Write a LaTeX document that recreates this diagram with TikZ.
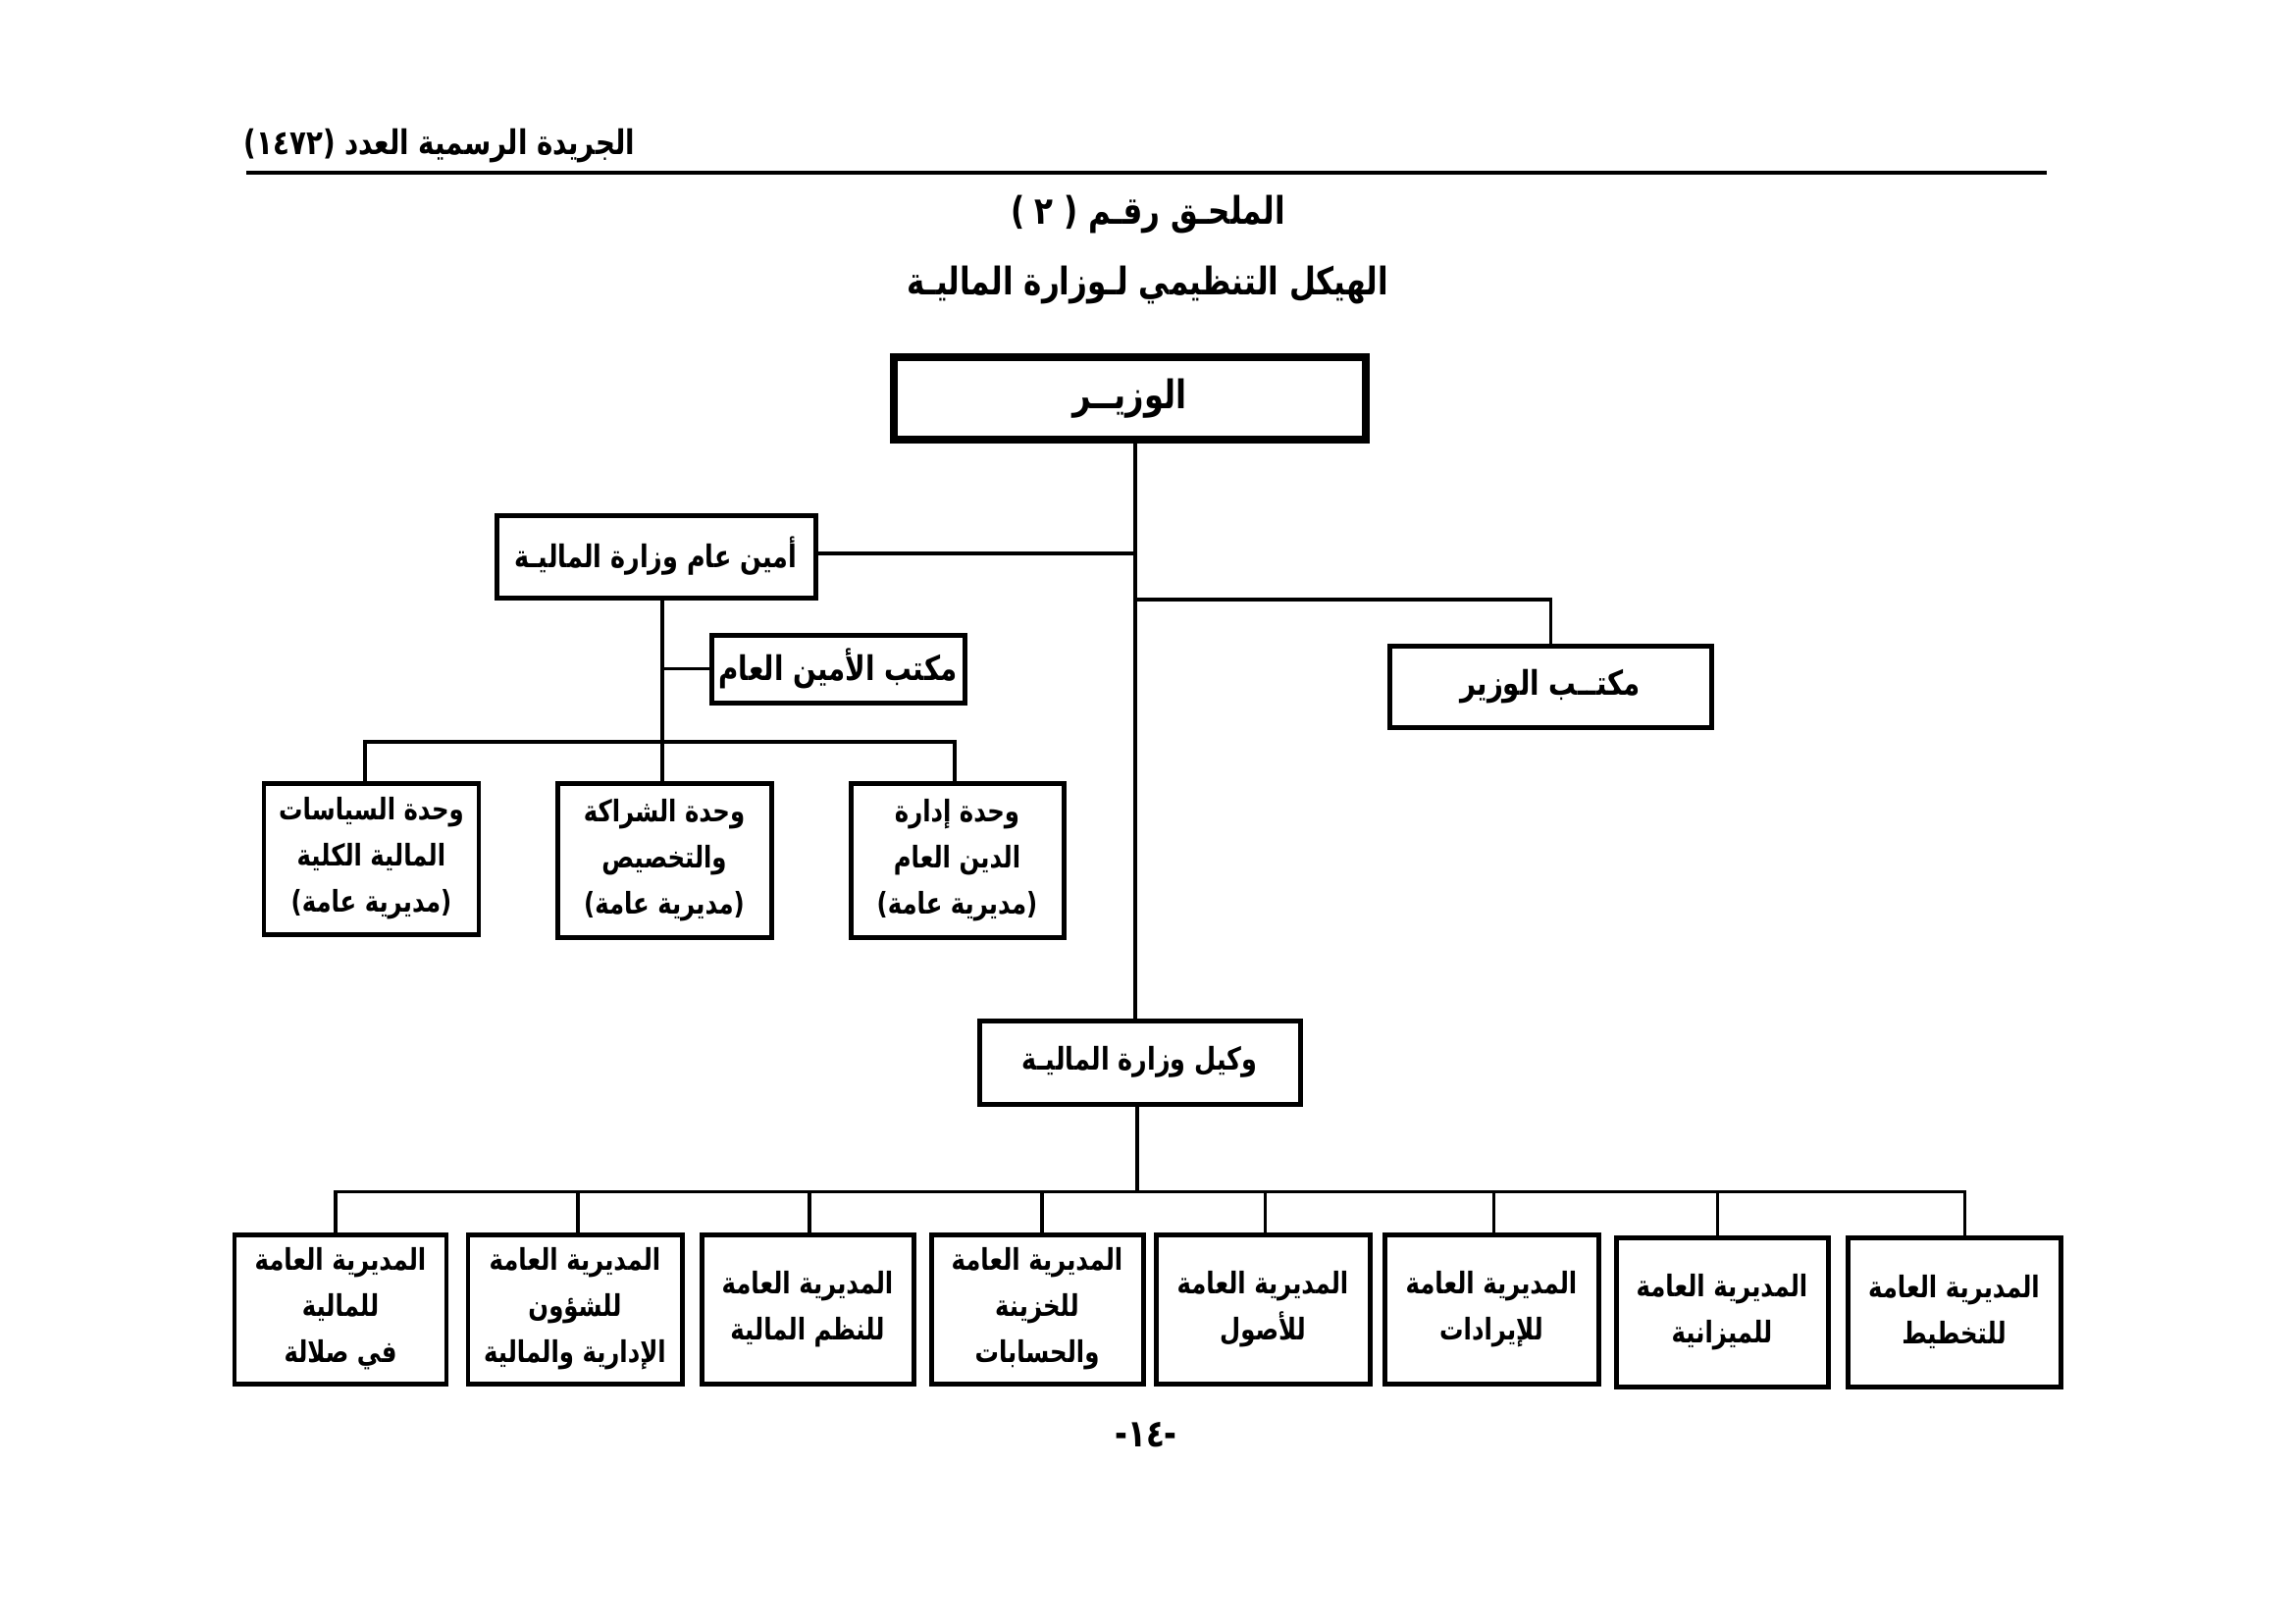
\documentclass[tikz,border=0pt]{standalone}
\usepackage{fontspec}
\newfontfamily\arabicfont[Script=Arabic,FakeStretch=0.8]{DejaVu Sans}
\TeXXeTstate=1
\newcommand\ar[1]{\beginR #1\endR}
\begin{document}
\begin{tikzpicture}[x=0.127mm,y=-0.127mm,
  box/.style={draw, line width=1.8pt, inner sep=0pt, align=center,
    font=\arabicfont\bfseries\fontsize{11}{17}\selectfont},
  bigbox/.style={box, line width=2.6pt, font=\arabicfont\bfseries\fontsize{14.5}{18}\selectfont},
  midbox/.style={box, font=\arabicfont\bfseries\fontsize{12.5}{16}\selectfont},
  conn/.style={line width=1.1pt},
  ttl/.style={inner sep=0pt, font=\arabicfont\bfseries\fontsize{14}{18}\selectfont}]
\path[fill=white,use as bounding box] (0,0) rectangle (2339,1654);
% header
\node[ttl, font=\arabicfont\bfseries\fontsize{12.5}{14}\selectfont] (hdr) at (448,149) {\ar{الجريدة الرسمية العدد \beginL(١٤٧٢)\endL}};
\coordinate (r1) at (251,176);
\coordinate (r2) at (2086,176);
\draw[line width=1.6pt] (r1) -- (r2);
\node[ttl] (t1) at (1170,219) {\ar{الملحـق رقـم \beginL) ٢ (\endL}};
\node[ttl] (t2) at (1170,291) {\ar{الهيكل التنظيمي لـوزارة الماليـة}};
% boxes
\node[bigbox, minimum width=481*0.127mm, minimum height=84*0.127mm] (min) at (1151.5,406) {\ar{الوزيــر}};
\node[midbox, font=\arabicfont\bfseries\fontsize{11.5}{16}\selectfont, minimum width=325*0.127mm, minimum height=84*0.127mm] (amin) at (668.5,567) {\ar{أمين عام وزارة الماليـة}};
\node[midbox, minimum width=328*0.127mm, minimum height=83*0.127mm] (omin) at (1580,699.5) {\ar{مكتــب الوزير}};
\node[midbox, minimum width=258*0.127mm, minimum height=69*0.127mm] (oamin) at (854,681.5) {\ar{مكتب الأمين العام}};
\node[box, minimum width=219*0.127mm, minimum height=154*0.127mm] (u1) at (378.5,875) {\ar{وحدة السياسات}\\\ar{المالية الكلية}\\\beginL)\beginR مديرية عامة\endR(\endL};
\node[box, minimum width=218*0.127mm, minimum height=157*0.127mm] (u2) at (677,876.5) {\ar{وحدة الشراكة}\\\ar{والتخصيص}\\\beginL)\beginR مديرية عامة\endR(\endL};
\node[box, minimum width=217*0.127mm, minimum height=157*0.127mm] (u3) at (975.5,876.5) {\ar{وحدة إدارة}\\\ar{الدين العام}\\\beginL)\beginR مديرية عامة\endR(\endL};
\node[midbox, font=\arabicfont\bfseries\fontsize{11.5}{16}\selectfont, minimum width=327*0.127mm, minimum height=85*0.127mm] (wak) at (1161.5,1082.5) {\ar{وكيل وزارة الماليـة}};
\node[box, minimum width=216*0.127mm, minimum height=152*0.127mm] (b1) at (347,1334) {\ar{المديرية العامة}\\\ar{للمالية}\\\ar{في صلالة}};
\node[box, minimum width=218*0.127mm, minimum height=152*0.127mm] (b2) at (586,1334) {\ar{المديرية العامة}\\\ar{للشؤون}\\\ar{الإدارية والمالية}};
\node[box, minimum width=216*0.127mm, minimum height=152*0.127mm] (b3) at (823,1334) {\ar{المديرية العامة}\\\ar{للنظم المالية}};
\node[box, minimum width=216*0.127mm, minimum height=152*0.127mm] (b4) at (1057,1334) {\ar{المديرية العامة}\\\ar{للخزينة}\\\ar{والحسابات}};
\node[box, minimum width=218*0.127mm, minimum height=152*0.127mm] (b5) at (1287,1334) {\ar{المديرية العامة}\\\ar{للأصول}};
\node[box, minimum width=218*0.127mm, minimum height=152*0.127mm] (b6) at (1520,1334) {\ar{المديرية العامة}\\\ar{للإيرادات}};
\node[box, minimum width=216*0.127mm, minimum height=152*0.127mm] (b7) at (1755,1337) {\ar{المديرية العامة}\\\ar{للميزانية}};
\node[box, minimum width=217*0.127mm, minimum height=152*0.127mm] (b8) at (1991.5,1337) {\ar{المديرية العامة}\\\ar{للتخطيط}};
\node[ttl, font=\arabicfont\bfseries\fontsize{14}{16}\selectfont] (pg) at (1168,1462) {-١٤-};
% connectors
\coordinate (tj1) at (1157,564);
\coordinate (tj2) at (1157,611);
\draw[conn] (min.south -| tj1) -- (wak.north -| tj1);
\draw[conn] (amin.east |- tj1) -- (tj1);
\draw[conn] (tj2) -| (omin.north);
\coordinate (av) at (675,756);
\draw[conn] (amin.south -| av) -- (av |- u2.north);
\draw[conn] (oamin.west -| av) -- (oamin.west);
\coordinate (ub1) at (372,756);
\coordinate (ub3) at (973,756);
\draw[conn] (ub1 |- u1.north) -- (ub1) -- (ub3) -- (ub3 |- u3.north);
\coordinate (lb) at (1159,1214);
\draw[conn] (wak.south -| lb) -- (lb);
\coordinate (d1) at (342,1214);
\coordinate (d2) at (589,1214);
\coordinate (d3) at (825,1214);
\coordinate (d4) at (1062,1214);
\coordinate (d5) at (1289,1214);
\coordinate (d6) at (1522,1214);
\coordinate (d7) at (1750,1214);
\coordinate (d8) at (2002,1214);
\draw[conn] (d1 |- b1.north) -- (d1) -- (d8) -- (d8 |- b8.north);
\foreach \k in {2,...,7} { \draw[conn] (d\k) -- (d\k |- b\k.north); }
\end{tikzpicture}
\end{document}
